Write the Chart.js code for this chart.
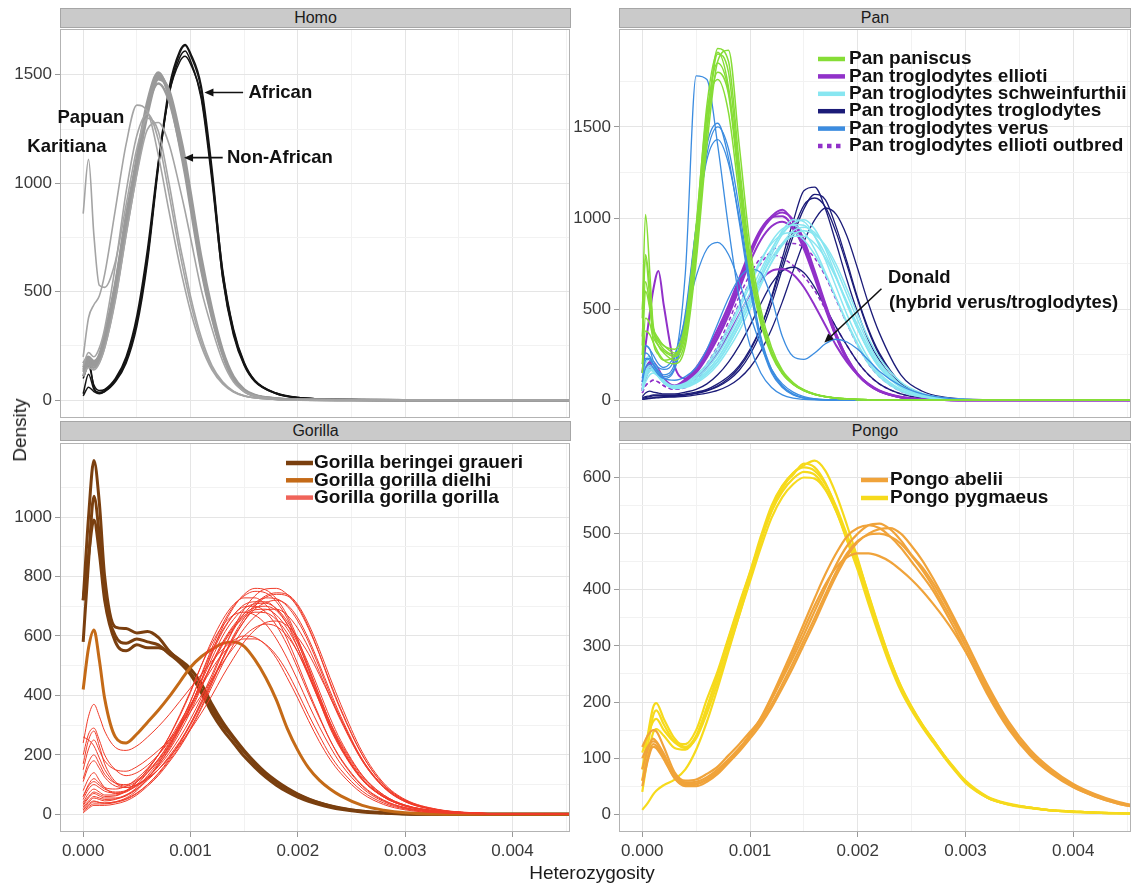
<!DOCTYPE html>
<html>
<head>
<meta charset="utf-8">
<script src="https://cdn.jsdelivr.net/npm/chart.js@4.4.0/dist/chart.umd.min.js"></script>
<style>
  body { margin: 0; background: #fff; font-family: "Liberation Sans", Arial, sans-serif; }
  #page { position: relative; width: 1131px; height: 888px; overflow: hidden; background: #fff; }
  canvas { position: absolute; }
  .strip { position: absolute; height: 20px; background: #cacaca; border: 1px solid #a6a6a6; box-sizing: border-box;
           text-align: center; font-size: 16px; line-height: 18px; color: #1a1a1a; }
  .axis-title { position: absolute; font-size: 19px; color: #1a1a1a; white-space: nowrap; }
</style>
</head>
<body>
<div id="page">
  <div class="strip" style="left:60px;top:8px;width:511px">Homo</div>
  <div class="strip" style="left:619px;top:8px;width:512px">Pan</div>
  <div class="strip" style="left:60px;top:421px;width:511px">Gorilla</div>
  <div class="strip" style="left:619px;top:421px;width:512px">Pongo</div>
  <canvas id="homo" width="571" height="389" style="left:0;top:29px"></canvas>
  <canvas id="pan" width="571" height="389" style="left:560px;top:29px"></canvas>
  <canvas id="gorilla" width="571" height="445" style="left:0;top:443px"></canvas>
  <canvas id="pongo" width="571" height="445" style="left:560px;top:443px"></canvas>
  <div class="axis-title" style="left:592px;top:873px;transform:translate(-50%,-50%)">Heterozygosity</div>
  <div class="axis-title" style="left:20px;top:430px;transform:translate(-50%,-50%) rotate(-90deg)">Density</div>
</div>
<script>
// Axis ticks
const xTicks = [0, 0.001, 0.002, 0.003, 0.004];
const homoYTicks = [0, 500, 1000, 1500];
const panYTicks = [0, 500, 1000, 1500];
const gorillaYTicks = [0, 200, 400, 600, 800, 1000];
const pongoYTicks = [0, 100, 200, 300, 400, 500, 600];

// Homo
const homoX = [0, 0.00005, 0.0001, 0.00015, 0.0002, 0.0003, 0.0004, 0.0005, 0.0006, 0.0007, 0.0008, 0.0009, 0.00095,
  0.001, 0.0011, 0.0012, 0.0013, 0.0014, 0.0015, 0.0016, 0.0018, 0.002, 0.0025, 0.003, 0.0035, 0.004, 0.0046];
const africanCurves = [
  [110, 185, 60, 35, 40, 85, 170, 340, 640, 1070, 1420, 1600, 1635, 1590, 1430, 1030, 560, 300, 160, 85, 30, 12, 3, 1, 0, 0, 0],
  [20, 60, 40, 30, 40, 90, 180, 360, 660, 1090, 1440, 1610, 1640, 1600, 1450, 1070, 590, 320, 170, 90, 32, 12, 3, 1, 0, 0, 0],
  [30, 120, 50, 35, 45, 95, 190, 370, 670, 1080, 1410, 1580, 1610, 1565, 1390, 1010, 565, 310, 165, 88, 30, 11, 3, 1, 0, 0, 0],
  [100, 160, 70, 45, 50, 100, 200, 390, 700, 1100, 1410, 1560, 1585, 1550, 1400, 1040, 600, 330, 175, 92, 33, 13, 3, 1, 0, 0, 0]
];
const nonAfricanCurves = [
  [130, 170, 160, 190, 270, 500, 800, 1080, 1340, 1500, 1420, 1200, 1080, 930, 630, 400, 220, 100, 45, 22, 7, 3, 1, 0, 0, 0, 0],
  [150, 190, 170, 200, 290, 530, 840, 1120, 1380, 1510, 1400, 1170, 1040, 890, 600, 380, 210, 95, 42, 20, 6, 2, 1, 0, 0, 0, 0],
  [110, 160, 150, 180, 250, 480, 780, 1060, 1320, 1480, 1430, 1230, 1110, 960, 660, 420, 230, 110, 50, 24, 8, 3, 1, 0, 0, 0, 0],
  [170, 200, 180, 210, 300, 540, 850, 1100, 1350, 1460, 1380, 1180, 1060, 910, 620, 390, 215, 98, 44, 21, 7, 2, 1, 0, 0, 0, 0],
  [140, 180, 165, 195, 280, 510, 820, 1100, 1360, 1490, 1410, 1190, 1070, 920, 615, 395, 218, 100, 46, 22, 7, 3, 1, 0, 0, 0, 0]
];
const nonAfricanThin = [
  [200, 380, 440, 480, 580, 880, 1180, 1360, 1330, 1130, 870, 620, 510, 410, 250, 140, 75, 38, 19, 10, 4, 2, 1, 0, 0, 0, 0],
  [160, 220, 200, 240, 330, 620, 960, 1220, 1320, 1200, 950, 680, 560, 450, 270, 150, 80, 40, 20, 11, 4, 2, 1, 0, 0, 0, 0],
  [120, 150, 140, 170, 240, 460, 760, 1040, 1250, 1280, 1180, 980, 870, 750, 510, 330, 180, 85, 40, 20, 6, 2, 1, 0, 0, 0, 0],
  [860, 1110, 760, 530, 520, 640, 900, 1160, 1300, 1240, 1000, 720, 600, 480, 290, 160, 85, 42, 21, 11, 4, 2, 1, 0, 0, 0, 0]
];

// Pan
const panX = [0, 0.00003, 0.00007, 0.0001, 0.00015, 0.0002, 0.0003, 0.0004, 0.0005, 0.0006, 0.0007, 0.0008, 0.0009, 0.001,
  0.0011, 0.0012, 0.0013, 0.0014, 0.0015, 0.0016, 0.0017, 0.0018, 0.0019, 0.002, 0.0021, 0.0022, 0.0024, 0.0026, 0.0028,
  0.003, 0.0035, 0.004, 0.0046];
const paniscusCurves = [
  [450, 1020, 700, 420, 330, 300, 260, 380, 850, 1500, 1900, 1800, 1250, 760, 450, 260, 150, 90, 55, 33, 20, 12, 8, 5, 3, 2, 1, 0, 0, 0, 0, 0, 0],
  [300, 800, 620, 400, 300, 260, 220, 330, 800, 1460, 1930, 1860, 1300, 790, 470, 270, 155, 92, 56, 34, 21, 13, 8, 5, 3, 2, 1, 0, 0, 0, 0, 0, 0],
  [250, 600, 500, 380, 320, 280, 250, 400, 940, 1620, 1910, 1720, 1200, 740, 440, 255, 148, 88, 53, 32, 20, 12, 8, 5, 3, 2, 1, 0, 0, 0, 0, 0, 0],
  [200, 450, 420, 350, 300, 270, 240, 360, 850, 1500, 1800, 1680, 1180, 730, 440, 258, 150, 90, 55, 33, 20, 12, 8, 5, 3, 2, 1, 0, 0, 0, 0, 0, 0],
  [350, 650, 520, 400, 340, 300, 280, 430, 960, 1580, 1760, 1580, 1120, 700, 420, 248, 145, 87, 52, 32, 20, 12, 8, 5, 3, 2, 1, 0, 0, 0, 0, 0, 0],
  [150, 380, 360, 320, 260, 220, 200, 300, 760, 1400, 1860, 1920, 1400, 850, 500, 290, 165, 98, 58, 35, 21, 13, 8, 5, 3, 2, 1, 0, 0, 0, 0, 0, 0],
  [500, 780, 550, 330, 250, 220, 240, 400, 900, 1560, 1850, 1700, 1220, 750, 450, 262, 152, 91, 55, 33, 20, 12, 8, 5, 3, 2, 1, 0, 0, 0, 0, 0, 0]
];
const verusCurves = [
  [150, 300, 280, 220, 180, 170, 230, 700, 1780, 1760, 1400, 950, 560, 300, 150, 70, 30, 12, 5, 2, 1, 0, 0, 0, 0, 0, 0, 0, 0, 0, 0, 0, 0],
  [200, 260, 240, 200, 150, 130, 180, 450, 950, 1400, 1520, 1330, 980, 610, 320, 150, 70, 30, 12, 5, 2, 1, 0, 0, 0, 0, 0, 0, 0, 0, 0, 0, 0],
  [100, 180, 200, 180, 140, 120, 170, 420, 900, 1350, 1500, 1380, 1050, 660, 350, 170, 80, 35, 14, 6, 3, 1, 0, 0, 0, 0, 0, 0, 0, 0, 0, 0, 0],
  [120, 220, 230, 200, 160, 140, 200, 480, 950, 1320, 1430, 1300, 1000, 640, 340, 160, 75, 32, 13, 5, 2, 1, 0, 0, 0, 0, 0, 0, 0, 0, 0, 0, 0],
  [250, 300, 280, 250, 200, 180, 250, 450, 680, 830, 866, 800, 650, 470, 300, 170, 90, 45, 20, 9, 4, 2, 1, 0, 0, 0, 0, 0, 0, 0, 0, 0, 0],
  [200, 230, 220, 200, 160, 120, 110, 130, 180, 280, 420, 560, 670, 720, 700, 560, 350, 240, 225, 260, 310, 335, 320, 280, 220, 160, 80, 35, 14, 5, 1, 0, 0]
];
const schweinfurthiiCurves = [
  [100, 160, 190, 180, 140, 100, 70, 80, 110, 160, 230, 330, 440, 560, 690, 820, 930, 990, 980, 900, 770, 620, 470, 340, 230, 150, 60, 22, 8, 3, 0, 0, 0],
  [60, 120, 160, 170, 140, 100, 65, 75, 100, 145, 210, 300, 410, 530, 670, 800, 910, 970, 990, 940, 830, 680, 530, 390, 270, 180, 70, 26, 9, 3, 0, 0, 0],
  [120, 200, 230, 200, 150, 105, 75, 90, 130, 190, 270, 380, 500, 630, 760, 870, 940, 960, 920, 830, 700, 560, 420, 300, 200, 130, 50, 18, 6, 2, 0, 0, 0],
  [80, 140, 170, 160, 130, 95, 65, 70, 95, 135, 195, 280, 380, 500, 630, 760, 860, 930, 950, 920, 840, 720, 580, 440, 310, 210, 85, 32, 11, 4, 0, 0, 0],
  [150, 220, 240, 210, 160, 110, 80, 95, 140, 200, 290, 400, 520, 650, 770, 860, 910, 920, 880, 800, 690, 560, 430, 310, 210, 140, 55, 20, 7, 2, 0, 0, 0],
  [50, 100, 140, 150, 130, 95, 70, 80, 110, 160, 230, 320, 430, 550, 670, 780, 860, 900, 900, 860, 780, 670, 540, 410, 290, 195, 80, 30, 10, 3, 0, 0, 0],
  [90, 150, 180, 170, 135, 100, 72, 85, 120, 175, 250, 350, 465, 590, 715, 830, 920, 965, 960, 900, 800, 670, 525, 390, 275, 185, 75, 28, 10, 3, 0, 0, 0],
  [70, 130, 165, 160, 130, 95, 68, 78, 105, 150, 215, 305, 410, 525, 645, 755, 850, 910, 930, 910, 850, 745, 610, 470, 340, 235, 100, 38, 13, 4, 0, 0, 0]
];
const elliotiCurves = [
  [80, 150, 200, 210, 170, 120, 80, 110, 170, 260, 370, 500, 650, 810, 930, 1010, 1045, 980, 860, 690, 510, 350, 225, 140, 85, 50, 16, 5, 2, 0, 0, 0, 0],
  [60, 130, 180, 200, 160, 110, 75, 100, 160, 245, 350, 480, 630, 790, 920, 1000, 1030, 990, 880, 710, 530, 365, 235, 145, 88, 52, 17, 6, 2, 0, 0, 0, 0],
  [100, 170, 210, 200, 150, 105, 80, 115, 180, 275, 390, 520, 670, 820, 940, 1005, 1010, 950, 830, 670, 500, 345, 222, 138, 84, 49, 16, 5, 2, 0, 0, 0, 0],
  [50, 120, 170, 180, 150, 100, 70, 95, 150, 235, 340, 465, 610, 760, 880, 955, 980, 940, 840, 690, 520, 360, 232, 144, 87, 51, 17, 6, 2, 0, 0, 0, 0],
  [150, 300, 480, 600, 710, 520, 190, 120, 130, 180, 260, 360, 470, 580, 660, 710, 720, 690, 620, 520, 410, 300, 210, 140, 90, 55, 20, 7, 2, 0, 0, 0, 0]
];
const troglodytesCurves = [
  [10, 15, 20, 25, 25, 25, 25, 30, 40, 55, 80, 120, 180, 270, 400, 570, 780, 980, 1150, 1170, 1050, 860, 660, 480, 330, 220, 80, 28, 9, 3, 0, 0, 0],
  [5, 8, 12, 15, 18, 20, 22, 28, 38, 52, 75, 110, 165, 250, 370, 530, 720, 900, 1050, 1130, 1100, 950, 760, 560, 390, 260, 95, 33, 11, 4, 0, 0, 0],
  [15, 20, 25, 30, 30, 30, 30, 35, 45, 60, 90, 130, 190, 280, 400, 560, 750, 930, 1070, 1110, 1060, 920, 740, 550, 380, 250, 90, 30, 10, 3, 0, 0, 0],
  [5, 8, 10, 12, 14, 16, 18, 22, 30, 40, 55, 80, 120, 180, 270, 390, 540, 710, 870, 990, 1055, 1020, 900, 720, 530, 370, 140, 50, 17, 6, 1, 0, 0],
  [20, 40, 50, 45, 40, 35, 35, 45, 60, 90, 140, 210, 300, 410, 530, 640, 710, 730, 700, 620, 510, 400, 300, 210, 140, 90, 35, 12, 4, 1, 0, 0, 0]
];
const outbredCurves = [
  [40, 80, 100, 110, 100, 80, 60, 70, 110, 180, 280, 400, 530, 650, 750, 820, 850, 860, 840, 780, 680, 550, 420, 300, 200, 130, 50, 18, 6, 2, 0, 0, 0],
  [40, 80, 100, 110, 100, 80, 60, 75, 120, 200, 300, 430, 570, 690, 780, 800, 780, 740, 680, 600, 500, 400, 300, 210, 140, 90, 35, 12, 4, 1, 0, 0, 0]
];

// Gorilla
const gorillaX = [0, 0.00005, 0.0001, 0.00015, 0.0002, 0.0003, 0.0004, 0.0005, 0.0006, 0.0007, 0.0008, 0.0009, 0.001,
  0.0011, 0.0012, 0.0013, 0.0014, 0.0015, 0.0016, 0.0017, 0.0018, 0.0019, 0.002, 0.0021, 0.0022, 0.0023, 0.0024,
  0.0026, 0.0028, 0.003, 0.0033, 0.0036, 0.004, 0.0046];
const graueriCurves = [
  [720, 1000, 1190, 1050, 800, 630, 625, 610, 615, 595, 550, 515, 475, 420, 355, 300, 255, 210, 170, 135, 108, 85, 66, 50, 38, 28, 20, 10, 5, 2, 1, 0, 0, 0],
  [580, 850, 1070, 940, 740, 600, 575, 590, 580, 570, 540, 510, 470, 410, 340, 285, 240, 195, 158, 125, 98, 76, 58, 44, 33, 24, 17, 8, 4, 1, 0, 0, 0, 0],
  [720, 870, 990, 880, 720, 580, 550, 570, 560, 560, 545, 520, 490, 440, 370, 310, 260, 215, 175, 140, 112, 88, 68, 52, 39, 29, 21, 10, 5, 2, 1, 0, 0, 0]
];
const dielhiCurves = [
  [420, 560, 620, 520, 390, 260, 240, 270, 310, 350, 395, 445, 495, 530, 555, 575, 580, 565, 520, 460, 385, 290, 215, 156, 115, 85, 62, 30, 14, 5, 1, 0, 0, 0]
];
const gorillaGorillaCurves = [
  [20, 40, 55, 50, 45, 50, 65, 90, 130, 175, 225, 290, 360, 450, 540, 615, 670, 705, 715, 715, 690, 640, 560, 470, 380, 290, 220, 115, 58, 28, 10, 4, 1, 0],
  [80, 120, 140, 115, 90, 70, 75, 100, 140, 185, 240, 305, 380, 470, 560, 640, 700, 735, 750, 745, 715, 660, 580, 485, 390, 300, 225, 118, 60, 29, 10, 4, 1, 0],
  [10, 25, 35, 35, 35, 40, 50, 70, 100, 135, 180, 230, 290, 360, 440, 520, 590, 650, 700, 730, 740, 735, 700, 630, 540, 440, 350, 200, 100, 48, 16, 5, 1, 0],
  [170, 250, 280, 230, 170, 110, 95, 110, 140, 180, 230, 290, 355, 430, 510, 580, 635, 675, 695, 700, 685, 640, 575, 490, 400, 310, 235, 125, 62, 30, 11, 4, 1, 0],
  [240, 330, 370, 330, 280, 225, 215, 230, 260, 295, 335, 380, 425, 470, 515, 555, 585, 600, 595, 570, 525, 460, 390, 315, 245, 185, 138, 70, 33, 15, 5, 2, 0, 0],
  [150, 220, 250, 215, 180, 150, 145, 160, 185, 215, 250, 295, 345, 400, 455, 510, 560, 600, 628, 640, 632, 600, 545, 470, 390, 310, 240, 130, 65, 31, 11, 4, 1, 0],
  [40, 70, 85, 75, 65, 65, 80, 110, 150, 200, 260, 330, 410, 500, 585, 655, 705, 728, 728, 705, 660, 590, 505, 415, 330, 250, 185, 95, 46, 22, 8, 3, 1, 0],
  [5, 20, 30, 30, 30, 35, 45, 65, 95, 130, 175, 225, 285, 355, 430, 505, 570, 625, 665, 688, 690, 670, 625, 560, 480, 395, 315, 180, 92, 44, 15, 5, 1, 0],
  [30, 55, 70, 62, 55, 55, 65, 85, 115, 150, 195, 245, 305, 375, 450, 525, 595, 650, 690, 712, 720, 705, 660, 590, 505, 415, 330, 185, 92, 43, 14, 5, 1, 0],
  [200, 270, 290, 250, 200, 150, 130, 140, 165, 200, 245, 300, 365, 435, 505, 570, 625, 662, 680, 678, 655, 610, 545, 465, 380, 295, 225, 118, 58, 28, 10, 4, 1, 0],
  [60, 100, 120, 105, 90, 85, 95, 120, 155, 200, 250, 310, 370, 430, 490, 540, 575, 590, 590, 572, 535, 480, 410, 335, 265, 200, 150, 78, 38, 18, 6, 2, 0, 0],
  [110, 160, 180, 155, 125, 95, 90, 100, 120, 150, 190, 240, 300, 370, 445, 525, 600, 660, 705, 735, 745, 740, 705, 640, 555, 460, 370, 210, 105, 50, 17, 6, 1, 0],
  [15, 35, 45, 40, 38, 42, 55, 80, 120, 170, 230, 300, 380, 465, 550, 620, 670, 698, 700, 680, 635, 570, 490, 405, 325, 250, 188, 98, 48, 23, 8, 3, 1, 0],
  [50, 85, 100, 90, 78, 72, 78, 95, 120, 150, 190, 235, 285, 340, 400, 465, 525, 580, 620, 645, 650, 635, 595, 540, 470, 395, 320, 185, 95, 45, 15, 5, 1, 0],
  [25, 45, 60, 55, 50, 52, 62, 85, 120, 165, 220, 285, 360, 450, 545, 630, 695, 740, 760, 755, 725, 670, 590, 495, 400, 308, 230, 120, 60, 29, 10, 4, 1, 0],
  [260, 250, 230, 190, 150, 105, 90, 100, 125, 165, 215, 275, 345, 425, 505, 575, 630, 668, 688, 690, 670, 625, 560, 475, 385, 298, 225, 118, 58, 28, 10, 4, 1, 0],
  [60, 95, 110, 98, 85, 75, 80, 98, 125, 160, 205, 258, 320, 392, 470, 550, 620, 675, 712, 728, 725, 700, 650, 580, 495, 405, 322, 180, 90, 42, 14, 5, 1, 0],
  [35, 60, 75, 68, 60, 62, 78, 108, 150, 200, 262, 335, 415, 500, 575, 635, 670, 680, 670, 640, 590, 525, 450, 370, 295, 228, 170, 88, 43, 20, 7, 3, 1, 0],
  [120, 175, 200, 170, 135, 105, 100, 115, 145, 185, 235, 295, 365, 445, 525, 600, 655, 692, 708, 710, 692, 650, 585, 505, 415, 325, 248, 132, 65, 31, 11, 4, 1, 0],
  [15, 30, 42, 40, 38, 42, 52, 72, 100, 138, 185, 240, 305, 380, 460, 545, 625, 690, 735, 758, 760, 740, 695, 625, 540, 445, 355, 200, 100, 47, 15, 5, 1, 0]
];

// Pongo
const pongoX = [0, 0.00005, 0.0001, 0.00013, 0.0002, 0.0003, 0.0004, 0.0005, 0.0006, 0.0007, 0.0008, 0.0009, 0.001,
  0.0011, 0.0012, 0.0013, 0.0014, 0.0015, 0.0016, 0.0017, 0.0018, 0.0019, 0.002, 0.0021, 0.0022, 0.0023, 0.0024, 0.0025,
  0.0026, 0.0027, 0.0028, 0.0029, 0.003, 0.0032, 0.0034, 0.0036, 0.0038, 0.004, 0.0042, 0.0044, 0.0046];
const abeliiCurves = [
  [120, 140, 150, 148, 120, 75, 60, 62, 72, 85, 105, 125, 147, 170, 205, 242, 280, 320, 362, 404, 445, 478, 500, 515, 518, 508, 488, 462, 440, 412, 380, 345, 308, 228, 160, 110, 75, 49, 32, 20, 12],
  [100, 120, 130, 128, 105, 68, 55, 55, 62, 75, 92, 112, 135, 160, 190, 225, 262, 302, 342, 385, 425, 460, 485, 500, 508, 510, 500, 478, 452, 420, 385, 348, 310, 232, 165, 115, 80, 54, 36, 23, 14],
  [80, 115, 135, 130, 108, 70, 57, 58, 66, 80, 98, 118, 140, 165, 196, 232, 270, 310, 350, 392, 432, 465, 487, 498, 500, 495, 482, 460, 435, 405, 372, 338, 300, 222, 156, 108, 74, 50, 33, 21, 13],
  [60, 100, 125, 122, 100, 65, 52, 53, 62, 76, 95, 117, 142, 170, 205, 245, 287, 330, 372, 410, 440, 458, 465, 465, 460, 450, 435, 418, 398, 375, 350, 322, 290, 220, 158, 110, 76, 52, 35, 22, 14],
  [50, 95, 120, 118, 98, 64, 50, 50, 58, 72, 92, 115, 142, 172, 210, 252, 295, 340, 385, 428, 465, 495, 510, 515, 510, 495, 475, 450, 425, 398, 365, 330, 292, 215, 152, 105, 72, 48, 32, 20, 12]
];
const pygmaeusCurves = [
  [60, 120, 175, 185, 160, 130, 125, 150, 205, 255, 315, 375, 432, 495, 550, 585, 605, 625, 618, 590, 545, 490, 444, 385, 325, 270, 225, 189, 158, 132, 105, 80, 58, 30, 18, 12, 7, 5, 3, 2, 1],
  [8, 20, 35, 42, 52, 62, 80, 115, 165, 225, 290, 355, 420, 485, 540, 580, 608, 622, 630, 612, 570, 515, 455, 390, 330, 275, 228, 190, 158, 130, 104, 80, 58, 31, 18, 12, 7, 5, 3, 2, 1],
  [80, 140, 190, 198, 170, 135, 120, 140, 190, 245, 305, 365, 425, 488, 540, 575, 598, 610, 605, 580, 540, 488, 435, 375, 318, 265, 220, 185, 155, 128, 102, 78, 56, 30, 17, 11, 7, 4, 3, 2, 1],
  [110, 140, 165, 170, 150, 128, 118, 135, 180, 235, 295, 355, 415, 475, 528, 565, 588, 600, 598, 578, 540, 492, 440, 382, 325, 272, 226, 190, 160, 133, 106, 82, 60, 32, 19, 12, 7, 5, 3, 2, 1],
  [40, 100, 145, 152, 140, 118, 115, 138, 190, 250, 312, 372, 430, 490, 545, 585, 608, 618, 612, 588, 548, 498, 450, 392, 332, 276, 229, 192, 160, 132, 105, 80, 58, 30, 18, 12, 7, 5, 3, 2, 1]
];

// Colours
const colors = {
  african: '#141414', nonAfrican: '#9a9a9a', nonAfricanThin: '#a4a4a4',
  paniscus: '#86dd36', ellioti: '#9131c9', schweinfurthii: '#88e6f1', troglodytes: '#1b1b78', verus: '#3b8ce0',
  graueri: '#7a3f0f', dielhi: '#c46a17', gorilla: '#f03b29', gorillaKey: '#f0645a',
  abelii: '#f0a33a', pygmaeus: '#f6da1c'
};
const gridMajor = '#e5e5e5';
const gridMinor = '#f2f2f2';
const fontFamily = '"Liberation Sans", Arial, sans-serif';
const xMin = -0.000216, xMax = 0.004536;

function lineSet(xs, ys, color, width, dash) {
  return {
    data: xs.map((x, i) => ({ x: x, y: ys[i] })),
    borderColor: color,
    borderWidth: width,
    borderDash: dash || [],
    pointRadius: 0,
    fill: false,
    cubicInterpolationMode: 'monotone'
  };
}

function group(xs, curves, color, width, dash) {
  return curves.map(ys => lineSet(xs, ys, color, width, dash));
}

function drawArrow(ctx, x0, y0, x1, y1) {
  const ang = Math.atan2(y1 - y0, x1 - x0);
  const len = 9, half = 4;
  ctx.beginPath();
  ctx.moveTo(x0, y0);
  ctx.lineTo(x1 - Math.cos(ang) * len * 0.7, y1 - Math.sin(ang) * len * 0.7);
  ctx.stroke();
  ctx.beginPath();
  ctx.moveTo(x1, y1);
  ctx.lineTo(x1 - len * Math.cos(ang) + half * Math.sin(ang), y1 - len * Math.sin(ang) - half * Math.cos(ang));
  ctx.lineTo(x1 - len * Math.cos(ang) - half * Math.sin(ang), y1 - len * Math.sin(ang) + half * Math.cos(ang));
  ctx.closePath();
  ctx.fill();
}

// Border, legend and notes on top of each panel
function decorPlugin(decor) {
  return {
    id: 'decor',
    afterDraw(chart) {
      const { ctx, chartArea: a } = chart;
      const sx = chart.scales.x, sy = chart.scales.y;
      ctx.save();
      ctx.strokeStyle = '#b3b3b3';
      ctx.lineWidth = 1;
      ctx.strokeRect(Math.round(a.left) + 0.5, Math.round(a.top) + 0.5,
        Math.round(a.right - a.left) - 1, Math.round(a.bottom - a.top) - 1);

      ctx.textBaseline = 'middle';
      ctx.textAlign = 'left';
      if (decor.legend) {
        const lg = decor.legend;
        ctx.font = 'bold 19px ' + fontFamily;
        lg.items.forEach((item, i) => {
          const yy = a.top + lg.top + i * lg.step;
          ctx.beginPath();
          ctx.strokeStyle = item.color;
          ctx.lineWidth = 4.5;
          ctx.setLineDash(item.dash || []);
          ctx.moveTo(a.left + lg.keyLeft, yy);
          ctx.lineTo(a.left + lg.keyLeft + 27, yy);
          ctx.stroke();
          ctx.setLineDash([]);
          ctx.fillStyle = '#111';
          ctx.fillText(item.label, a.left + lg.textLeft, yy);
        });
      }
      ctx.font = 'bold 18.5px ' + fontFamily;
      ctx.fillStyle = '#111';
      ctx.strokeStyle = '#111';
      ctx.lineWidth = 1.6;
      (decor.notes || []).forEach(n => {
        ctx.fillText(n.text, sx.getPixelForValue(n.x), sy.getPixelForValue(n.y));
      });
      (decor.arrows || []).forEach(ar => {
        drawArrow(ctx, sx.getPixelForValue(ar.x0), sy.getPixelForValue(ar.y0),
          sx.getPixelForValue(ar.x1), sy.getPixelForValue(ar.y1));
      });
      ctx.restore();
    }
  };
}

function buildPanel(canvasId, opts) {
  const xMinor = xTicks.map(v => v + 0.0005);
  const allX = xTicks.concat(xMinor).sort((p, q) => p - q);
  const yMajor = opts.yTicks;
  const yStep = yMajor[1] - yMajor[0];
  const yMinor = yMajor.map(v => v + yStep / 2).filter(v => v < opts.yMax);
  const allY = yMajor.concat(yMinor).sort((p, q) => p - q);
  const isMajorX = v => xTicks.some(t => Math.abs(t - v) < 1e-9);
  const isMajorY = v => yMajor.includes(v);

  return new Chart(document.getElementById(canvasId), {
    type: 'line',
    data: { datasets: opts.datasets },
    options: {
      responsive: false,
      animation: false,
      devicePixelRatio: 1,
      events: [],
      layout: { padding: { left: 0, top: 0, right: opts.padRight, bottom: 0 } },
      plugins: { legend: { display: false }, tooltip: { enabled: false } },
      scales: {
        x: {
          type: 'linear', min: xMin, max: xMax,
          afterBuildTicks: ax => { ax.ticks = allX.map(v => ({ value: v })); },
          afterFit: ax => { ax.height = opts.showX ? 56 : 0; ax.paddingLeft = 0; ax.paddingRight = 0; },
          ticks: {
            display: opts.showX, autoSkip: false, maxRotation: 0, padding: 4, color: '#3a3a3a',
            font: { family: fontFamily, size: 17 },
            callback: v => isMajorX(v) ? v.toFixed(3) : ''
          },
          grid: {
            color: c => (c.tick && isMajorX(c.tick.value)) ? gridMajor : gridMinor,
            drawTicks: opts.showX, tickLength: 5,
            tickColor: c => (c.tick && isMajorX(c.tick.value)) ? '#999' : 'rgba(0,0,0,0)'
          },
          border: { display: false }
        },
        y: {
          type: 'linear', min: opts.yMin, max: opts.yMax,
          afterBuildTicks: ax => { ax.ticks = allY.map(v => ({ value: v })); },
          afterFit: ax => { ax.width = opts.yWidth; ax.paddingTop = 0; ax.paddingBottom = 0; },
          ticks: {
            autoSkip: false, padding: 3, color: '#3a3a3a',
            font: { family: fontFamily, size: 17 },
            callback: v => isMajorY(v) ? String(v) : ''
          },
          grid: {
            color: c => (c.tick && isMajorY(c.tick.value)) ? gridMajor : gridMinor,
            tickLength: 5,
            tickColor: c => (c.tick && isMajorY(c.tick.value)) ? '#999' : 'rgba(0,0,0,0)'
          },
          border: { display: false }
        }
      }
    },
    plugins: [decorPlugin(opts.decor)]
  });
}

document.addEventListener('DOMContentLoaded', () => {
  buildPanel('homo', {
    yTicks: homoYTicks, yMin: -82, yMax: 1711, yWidth: 60, padRight: 1, showX: false,
    datasets: [].concat(
      group(homoX, nonAfricanThin, colors.nonAfricanThin, 1.6),
      group(homoX, nonAfricanCurves, colors.nonAfrican, 2.6),
      group(homoX, africanCurves, colors.african, 1.5)
    ),
    decor: {
      notes: [
        { text: 'African', x: 0.00154, y: 1418 },
        { text: 'Non-African', x: 0.00134, y: 1118 },
        { text: 'Papuan', x: -0.00024, y: 1303 },
        { text: 'Karitiana', x: -0.00052, y: 1169 }
      ],
      arrows: [
        { x0: 0.00149, y0: 1418, x1: 0.00113, y1: 1418 },
        { x0: 0.00130, y0: 1118, x1: 0.00094, y1: 1118 }
      ]
    }
  });

  buildPanel('pan', {
    yTicks: panYTicks, yMin: -97, yMax: 2037, yWidth: 59, padRight: 0, showX: false,
    datasets: [].concat(
      group(panX, paniscusCurves, colors.paniscus, 1.5),
      group(panX, verusCurves, colors.verus, 1.3),
      group(panX, schweinfurthiiCurves, colors.schweinfurthii, 1.5),
      group(panX, elliotiCurves, colors.ellioti, 2),
      group(panX, troglodytesCurves, colors.troglodytes, 1.3),
      group(panX, outbredCurves, colors.ellioti, 1.5, [4, 3])
    ),
    decor: {
      legend: {
        keyLeft: 199, textLeft: 230, top: 30, step: 17.4,
        items: [
          { label: 'Pan paniscus', color: colors.paniscus },
          { label: 'Pan troglodytes ellioti', color: colors.ellioti },
          { label: 'Pan troglodytes schweinfurthii', color: colors.schweinfurthii },
          { label: 'Pan troglodytes troglodytes', color: colors.troglodytes },
          { label: 'Pan troglodytes verus', color: colors.verus },
          { label: 'Pan troglodytes ellioti outbred', color: colors.ellioti, dash: [4.5, 4.5] }
        ]
      },
      notes: [
        { text: 'Donald', x: 0.00228, y: 674 },
        { text: '(hybrid verus/troglodytes)', x: 0.00229, y: 537 }
      ],
      arrows: [{ x0: 0.00222, y0: 612, x1: 0.00169, y1: 317 }]
    }
  });

  buildPanel('gorilla', {
    yTicks: gorillaYTicks, yMin: -59.5, yMax: 1249, yWidth: 60, padRight: 1, showX: true,
    datasets: [].concat(
      group(gorillaX, gorillaGorillaCurves, colors.gorilla, 1),
      group(gorillaX, dielhiCurves, colors.dielhi, 3),
      group(gorillaX, graueriCurves, colors.graueri, 3)
    ),
    decor: {
      legend: {
        keyLeft: 226, textLeft: 254, top: 20, step: 17.3,
        items: [
          { label: 'Gorilla beringei graueri', color: colors.graueri },
          { label: 'Gorilla gorilla dielhi', color: colors.dielhi },
          { label: 'Gorilla gorilla gorilla', color: colors.gorillaKey }
        ]
      }
    }
  });

  buildPanel('pongo', {
    yTicks: pongoYTicks, yMin: -31.5, yMax: 661.5, yWidth: 59, padRight: 0, showX: true,
    datasets: [].concat(
      group(pongoX, abeliiCurves, colors.abelii, 2.2),
      group(pongoX, pygmaeusCurves, colors.pygmaeus, 2.2)
    ),
    decor: {
      legend: {
        keyLeft: 242, textLeft: 271, top: 37, step: 18,
        items: [
          { label: 'Pongo abelii', color: colors.abelii },
          { label: 'Pongo pygmaeus', color: colors.pygmaeus }
        ]
      }
    }
  });
});
</script>
</body>
</html>
